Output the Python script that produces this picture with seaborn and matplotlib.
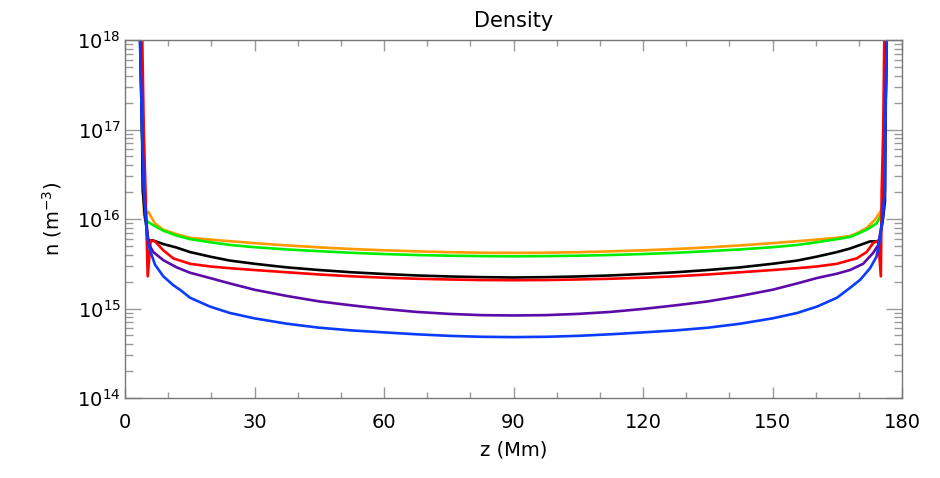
import matplotlib
matplotlib.use('Agg')
import matplotlib.pyplot as plt
import seaborn as sns
import pandas as pd
from matplotlib.ticker import MultipleLocator, LogLocator, NullFormatter

sns.set_theme(style='white')
plt.rcParams['font.family'] = ['DejaVu Sans']
plt.rcParams['mathtext.fontset'] = 'dejavusans'

series_names = ['orange', 'green', 'black', 'red', 'purple', 'blue']
series_colors = ['#ff9900', '#00ee00', '#000000', '#ff0000', '#5c0aa8', '#0a3cff']

orange_z = [3.30, 3.50, 3.94, 4.30, 4.40, 5.40, 6.95, 8.87, 11.98, 15.06, 19.69, 24.3, 30.0, 37.5, 45.0,
            52.5, 60.0, 67.5, 75.0, 82.5, 90.0, 97.5, 105.0, 112.5, 120.0, 127.5, 135.0, 142.5, 150.0,
            155.7, 160.3, 164.94, 167.95, 169.5, 171.8, 173.7, 175.1, 175.9, 176.1, 176.45, 176.6]
orange_n = [3.16e18, 1.0e18, 1.0e17, 2.09e16, 1.10e16, 1.20e16, 8.91e15, 7.59e15, 6.76e15, 6.17e15,
            5.89e15, 5.65e15, 5.37e15, 5.07e15, 4.82e15, 4.62e15, 4.47e15, 4.35e15, 4.26e15, 4.20e15,
            4.18e15, 4.20e15, 4.26e15, 4.35e15, 4.47e15, 4.62e15, 4.82e15, 5.07e15, 5.37e15, 5.65e15,
            5.89e15, 6.17e15, 6.46e15, 6.92e15, 7.94e15, 9.77e15, 1.23e16, 2.09e16, 1.0e17, 1.0e18, 3.16e18]

green_z = [3.30, 3.50, 3.94, 4.30, 4.63, 6.56, 8.87, 11.98, 15.06, 19.69, 24.3, 30.0, 37.5, 45.0, 52.5,
           60.0, 67.5, 75.0, 82.5, 90.0, 97.5, 105.0, 112.5, 120.0, 127.5, 135.0, 142.5, 150.0, 155.7,
           160.3, 164.94, 167.95, 169.5, 171.8, 174.1, 175.3, 175.9, 176.1, 176.45, 176.6]
green_n = [3.16e18, 1.0e18, 1.0e17, 2.09e16, 9.77e15, 8.51e15, 7.41e15, 6.53e15, 5.96e15, 5.50e15,
           5.13e15, 4.84e15, 4.57e15, 4.37e15, 4.19e15, 4.06e15, 3.96e15, 3.89e15, 3.85e15, 3.83e15,
           3.85e15, 3.89e15, 3.96e15, 4.06e15, 4.19e15, 4.37e15, 4.57e15, 4.84e15, 5.13e15, 5.50e15,
           5.96e15, 6.31e15, 6.76e15, 7.59e15, 8.91e15, 1.15e16, 2.09e16, 1.0e17, 1.0e18, 3.16e18]

black_z = [3.30, 3.60, 3.94, 4.10, 4.63, 5.40, 6.56, 8.87, 11.98, 15.06, 19.69, 24.3, 30.0, 37.5, 45.0,
           52.5, 60.0, 67.5, 75.0, 82.5, 90.0, 97.5, 105.0, 112.5, 120.0, 127.5, 135.0, 142.5, 150.0,
           155.7, 160.3, 164.94, 167.95, 170.3, 172.6, 174.1, 174.7, 175.6, 176.05, 176.15, 176.45, 176.6]
black_n = [3.16e18, 1.0e18, 1.0e17, 2.09e16, 1.07e16, 5.75e15, 5.75e15, 5.25e15, 4.79e15, 4.27e15,
           3.80e15, 3.43e15, 3.16e15, 2.88e15, 2.69e15, 2.54e15, 2.43e15, 2.34e15, 2.28e15, 2.24e15,
           2.22e15, 2.24e15, 2.28e15, 2.34e15, 2.43e15, 2.54e15, 2.69e15, 2.88e15, 3.16e15, 3.43e15,
           3.80e15, 4.27e15, 4.68e15, 5.13e15, 5.62e15, 5.62e15, 5.37e15, 1.0e16, 1.58e16, 1.0e17,
           1.0e18, 3.16e18]

red_z = [3.90, 4.00, 4.35, 4.75, 5.26, 5.95, 6.95, 8.87, 11.19, 15.06, 19.69, 24.3, 30.0, 37.5, 45.0,
         52.5, 60.0, 67.5, 75.0, 82.5, 90.0, 97.5, 105.0, 112.5, 120.0, 127.5, 135.0, 142.5, 150.0,
         155.7, 160.3, 164.94, 167.95, 169.5, 171.8, 173.3, 174.5, 175.1, 175.3, 175.65, 175.9, 176.0]
red_n = [3.16e18, 1.0e18, 1.0e17, 2.09e16, 2.29e15, 5.75e15, 5.62e15, 4.47e15, 3.63e15, 3.16e15,
         2.95e15, 2.82e15, 2.69e15, 2.54e15, 2.40e15, 2.29e15, 2.21e15, 2.15e15, 2.11e15, 2.08e15,
         2.07e15, 2.08e15, 2.11e15, 2.15e15, 2.21e15, 2.29e15, 2.40e15, 2.54e15, 2.69e15, 2.82e15,
         2.95e15, 3.16e15, 3.47e15, 3.63e15, 4.27e15, 5.37e15, 5.75e15, 2.29e15, 2.09e16, 1.0e17,
         1.0e18, 3.16e18]

purple_z = [3.30, 3.50, 3.94, 4.35, 5.40, 6.56, 8.87, 11.98, 15.06, 19.69, 24.3, 30.0, 37.5, 45.0, 52.5,
            60.0, 67.5, 75.0, 82.5, 90.0, 97.5, 105.0, 112.5, 120.0, 127.5, 135.0, 142.5, 150.0, 155.7,
            160.3, 164.94, 167.95, 171.0, 173.3, 174.5, 175.5, 176.0, 176.1, 176.45, 176.6]
purple_n = [3.16e18, 1.0e18, 1.0e17, 2.09e16, 5.37e15, 4.27e15, 3.47e15, 2.88e15, 2.51e15, 2.19e15,
            1.905e15, 1.62e15, 1.38e15, 1.20e15, 1.084e15, 9.89e14, 9.16e14, 8.71e14, 8.43e14, 8.36e14,
            8.43e14, 8.71e14, 9.16e14, 9.89e14, 1.084e15, 1.20e15, 1.38e15, 1.62e15, 1.905e15, 2.19e15,
            2.45e15, 2.69e15, 3.16e15, 4.17e15, 5.13e15, 1.0e16, 2.09e16, 1.0e17, 1.0e18, 3.16e18]

blue_z = [3.30, 3.47, 3.94, 4.40, 5.03, 5.79, 6.95, 8.87, 11.19, 12.74, 15.06, 19.69, 24.3, 30.0, 37.5,
          45.0, 52.5, 60.0, 67.5, 75.0, 82.5, 90.0, 97.5, 105.0, 112.5, 120.0, 127.5, 135.0, 142.5, 150.0,
          155.7, 160.3, 164.94, 167.95, 170.3, 172.6, 174.1, 174.7, 175.5, 176.05, 176.1, 176.45, 176.6]
blue_n = [3.16e18, 1.0e18, 1.0e17, 2.09e16, 6.92e15, 4.47e15, 3.09e15, 2.29e15, 1.82e15, 1.62e15,
          1.32e15, 1.05e15, 8.91e14, 7.76e14, 6.76e14, 6.10e14, 5.69e14, 5.41e14, 5.15e14, 4.95e14,
          4.83e14, 4.79e14, 4.83e14, 4.95e14, 5.15e14, 5.41e14, 5.69e14, 6.10e14, 6.76e14, 7.76e14,
          8.91e14, 1.05e15, 1.32e15, 1.70e15, 2.09e15, 2.82e15, 3.80e15, 5.37e15, 1.0e16, 2.09e16,
          1.0e17, 1.0e18, 3.16e18]

x_ticks = [0, 30, 60, 90, 120, 150, 180]

z_lists = [orange_z, green_z, black_z, red_z, purple_z, blue_z]
n_lists = [orange_n, green_n, black_n, red_n, purple_n, blue_n]
frames = []
for name, zs, ns in zip(series_names, z_lists, n_lists):
    frames.append(pd.DataFrame({'z': zs, 'n': ns, 'series': name}))
df = pd.concat(frames, ignore_index=True)

fig = plt.figure(figsize=(9.4, 4.78), dpi=100)
ax = fig.add_axes([125 / 940, 1 - 398 / 478, 777 / 940, 358 / 478])
sns.lineplot(data=df, x='z', y='n', hue='series', hue_order=series_names,
             palette=series_colors, sort=False, estimator=None, linewidth=1.9,
             legend=False, ax=ax)
ax.set_yscale('log')
ax.set_xlim(0, 180)
ax.set_ylim(1e14, 1e18)

ax.set_xticks(x_ticks)
ax.set_xticklabels([str(t) for t in x_ticks])
ax.xaxis.set_minor_locator(MultipleLocator(10))
ax.yaxis.set_major_locator(LogLocator(base=10, numticks=10))
ax.yaxis.set_minor_locator(LogLocator(base=10, subs=range(2, 10), numticks=50))
ax.yaxis.set_minor_formatter(NullFormatter())

for s in ax.spines.values():
    s.set_color('#777777')
    s.set_linewidth(1.0)

ax.tick_params(axis='x', which='major', direction='in', length=8, width=1, color='#999999',
               top=True, bottom=True, labelsize=14, pad=11, labelcolor='black')
ax.tick_params(axis='x', which='minor', direction='in', length=4.3, width=1, color='#999999',
               top=True, bottom=True)
ax.tick_params(axis='y', which='major', direction='in', length=11.5, width=1, color='#999999',
               left=True, right=True, labelsize=14, pad=3, labelcolor='black')
ax.tick_params(axis='y', which='minor', direction='in', length=5.5, width=1, color='#999999',
               left=True, right=True)

ax.set_title('Density', fontsize=15, pad=9.5, color='black')
ax.set_xlabel('z (Mm)', fontsize=14, color='black')
ax.xaxis.set_label_coords(0.5, -0.12)
ax.set_ylabel('n (m$^{-3}$)', fontsize=14, color='black')
ax.yaxis.set_label_coords(-0.078, 0.5)
ax.grid(False)

fig.savefig('out.png', dpi=100)
